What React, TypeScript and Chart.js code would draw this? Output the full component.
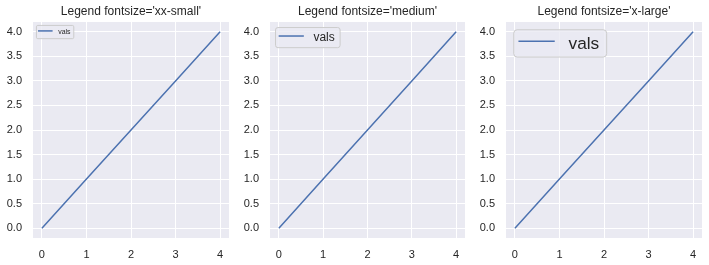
import React, { useEffect, useRef } from 'react';
import { Chart, registerables } from 'chart.js';

Chart.register(...registerables);

const xValues = [0, 1, 2, 3, 4];
const vals = [0, 1, 2, 3, 4];
const xTicks = [0, 1, 2, 3, 4];
const yTicks = [0, 0.5, 1, 1.5, 2, 2.5, 3, 3.5, 4];
const titles = ["Legend fontsize='xx-small'", "Legend fontsize='medium'", "Legend fontsize='x-large'"];
const legendLabel = 'vals';
const legendFontSizes = [6.95, 12, 17.28];

const FONT = "'Liberation Sans', Arial, sans-serif";
const TEXT = '#262626';
const LINE = '#4C72B0';
const BG = '#EAEAF2';

const panels = [
  { left: 0, width: 236, yAxisW: 33 },
  { left: 236, width: 236, yAxisW: 34 },
  { left: 472, width: 237, yAxisW: 34 },
];

function Panel({ idx }: { idx: number }) {
  const ref = useRef<HTMLCanvasElement>(null);
  const p = panels[idx];
  useEffect(() => {
    const fs = legendFontSizes[idx];
    const bgPlugin = {
      id: 'bg',
      beforeDraw(chart: any) {
        const { ctx, chartArea: a } = chart;
        ctx.save();
        ctx.fillStyle = BG;
        ctx.fillRect(a.left, a.top, a.right - a.left, a.bottom - a.top);
        ctx.restore();
      },
    };
    const deco = {
      id: 'deco',
      afterDraw(chart: any) {
        const { ctx, chartArea: a } = chart;
        ctx.save();
        // title
        ctx.fillStyle = TEXT;
        ctx.font = `12px ${FONT}`;
        ctx.textAlign = 'center';
        ctx.textBaseline = 'middle';
        ctx.fillText(titles[idx], (a.left + a.right) / 2, 11.5);
        // legend
        ctx.font = `${fs}px ${FONT}`;
        const tw = ctx.measureText(legendLabel).width;
        const bx = a.left + 0.42 * fs;
        const by = a.top + 0.42 * fs;
        const bw = 3.6 * fs + tw;
        const bh = 1.36 * fs + 3.8;
        ctx.beginPath();
        (ctx as any).roundRect(bx + 0.5, by + 0.5, bw, bh, 0.2 * fs);
        ctx.fillStyle = 'rgba(234,234,242,0.8)';
        ctx.fill();
        ctx.strokeStyle = '#CCCCCC';
        ctx.lineWidth = 1;
        ctx.stroke();
        const ly = by + bh / 2 - 0.09 * fs;
        const lx = bx + 0.3 * fs;
        ctx.beginPath();
        ctx.moveTo(lx, ly);
        ctx.lineTo(lx + 2.1 * fs, ly);
        ctx.strokeStyle = LINE;
        ctx.lineWidth = 1.5;
        ctx.stroke();
        ctx.fillStyle = TEXT;
        ctx.textAlign = 'left';
        ctx.textBaseline = 'alphabetic';
        ctx.fillText(legendLabel, lx + 2.9 * fs, ly + 0.42 * fs);
        ctx.restore();
      },
    };
    const chart = new Chart(ref.current as HTMLCanvasElement, {
      type: 'line',
      data: {
        datasets: [
          {
            label: legendLabel,
            data: xValues.map((x, i) => ({ x, y: vals[i] })),
            borderColor: LINE,
            borderWidth: 1.5,
            pointRadius: 0,
            tension: 0,
            fill: false,
          },
        ],
      },
      options: {
        animation: false,
        responsive: false,
        devicePixelRatio: 1,
        layout: { padding: { left: 0, right: 7, top: 22, bottom: 0 } },
        plugins: { legend: { display: false }, title: { display: false }, tooltip: { enabled: false } },
        scales: {
          x: {
            type: 'linear',
            min: -0.2,
            max: 4.2,
            afterBuildTicks(s: any) {
              s.ticks = xTicks.map((v) => ({ value: v }));
            },
            afterFit(s: any) {
              s.height = 27;
            },
            grid: { color: '#FFFFFF', lineWidth: 1, drawTicks: false },
            border: { display: false },
            ticks: {
              color: TEXT,
              font: { family: FONT, size: 11 },
              padding: 10,
              maxRotation: 0,
              autoSkip: false,
              callback: (v: any) => String(v),
            },
          },
          y: {
            type: 'linear',
            min: -0.2,
            max: 4.2,
            afterBuildTicks(s: any) {
              s.ticks = yTicks.map((v) => ({ value: v }));
            },
            afterFit(s: any) {
              s.width = p.yAxisW;
            },
            grid: { color: '#FFFFFF', lineWidth: 1, drawTicks: false },
            border: { display: false },
            ticks: {
              color: TEXT,
              font: { family: FONT, size: 11 },
              padding: 11,
              autoSkip: false,
              callback: (v: any) => Number(v).toFixed(1),
            },
          },
        },
      },
      plugins: [bgPlugin, deco],
    });
    return () => chart.destroy();
  }, [idx]);
  return (
    <canvas
      ref={ref}
      width={p.width}
      height={265}
      style={{ position: 'absolute', left: p.left, top: 0, width: p.width, height: 265 }}
    />
  );
}

export default function App() {
  return (
    <div style={{ position: 'absolute', left: 0, top: 0, width: 709, height: 265, background: '#FFFFFF', overflow: 'hidden' }}>
      <Panel idx={0} />
      <Panel idx={1} />
      <Panel idx={2} />
    </div>
  );
}
